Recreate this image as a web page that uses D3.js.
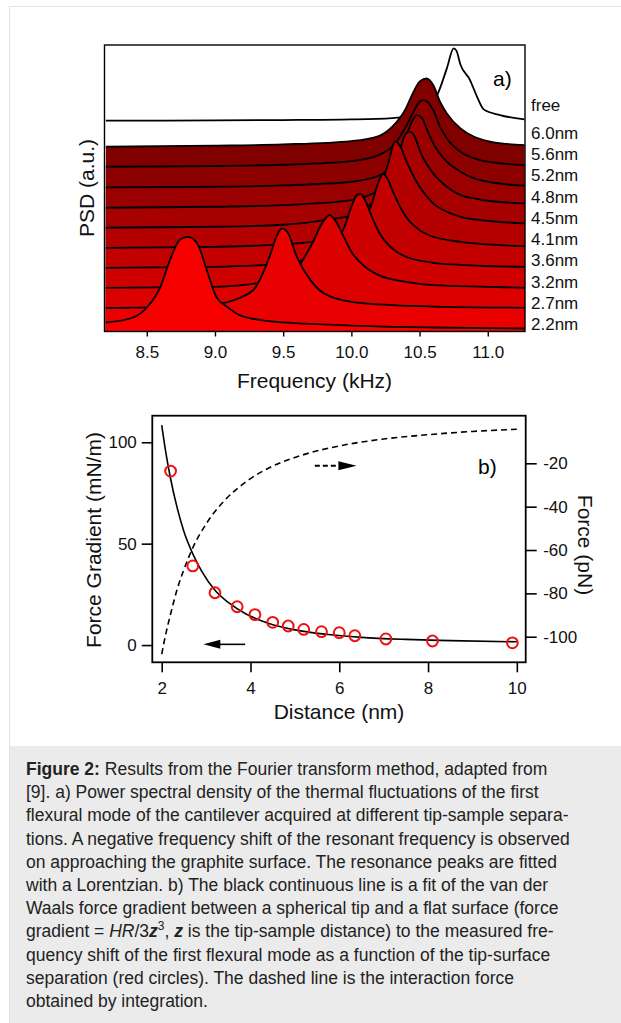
<!DOCTYPE html>
<html>
<head>
<meta charset="utf-8">
<script src="https://cdn.jsdelivr.net/npm/d3@7"></script>
<style>
  body { margin: 0; background: #fff; }
  svg { display: block; font-family: "Liberation Sans", Arial, sans-serif; }
</style>
</head>
<body>
<svg id="fig" width="621" height="1023"></svg>
<script>
// ---- panel a: spectra (frequency in kHz, PSD in a.u.)
var ticksA = [8.5, 9.0, 9.5, 10.0, 10.5, 11.0];
var labelsA = ["free", "6.0nm", "5.6nm", "5.2nm", "4.8nm", "4.5nm", "4.1nm", "3.6nm", "3.2nm", "2.7nm", "2.2nm"];

var fFree = [8.2, 9.0, 9.5, 10.0, 10.3, 10.5, 10.6, 10.64, 10.7, 10.75, 10.77, 10.8, 10.87, 10.92, 10.97, 11.09, 11.27];
var pFree = [6.32, 6.33, 6.34, 6.36, 6.40, 6.52, 6.85, 7.19, 7.89, 8.49, 8.42, 8.0, 7.54, 7.05, 6.66, 6.49, 6.36];
var f60 = [8.2, 9.0, 9.5, 10.0, 10.2, 10.3, 10.4, 10.45, 10.5, 10.55, 10.6, 10.65, 10.7, 10.8, 10.9, 11.0, 11.1, 11.27];
var p60 = [5.54, 5.57, 5.61, 5.71, 5.86, 6.14, 6.69, 7.14, 7.49, 7.59, 7.39, 6.89, 6.54, 6.09, 5.84, 5.71, 5.64, 5.59];
var f56 = [8.2, 9.0, 9.5, 10.0, 10.2, 10.3, 10.4, 10.45, 10.5, 10.53, 10.6, 10.65, 10.7, 10.8, 10.9, 11.0, 11.27];
var p56 = [4.94, 4.96, 5.00, 5.11, 5.29, 5.54, 6.14, 6.54, 6.89, 6.94, 6.64, 6.14, 5.79, 5.39, 5.19, 5.09, 4.99];
var f52 = [8.2, 9.0, 9.5, 10.0, 10.2, 10.3, 10.4, 10.45, 10.48, 10.52, 10.55, 10.6, 10.7, 10.8, 10.9, 11.0, 11.27];
var p52 = [4.32, 4.34, 4.38, 4.49, 4.67, 4.99, 5.84, 6.34, 6.49, 6.39, 6.09, 5.64, 5.09, 4.79, 4.59, 4.49, 4.37];
var f48 = [8.2, 9.0, 9.5, 10.0, 10.2, 10.3, 10.35, 10.4, 10.43, 10.47, 10.5, 10.6, 10.7, 10.8, 10.9, 11.0, 11.27];
var p48 = [3.71, 3.74, 3.79, 3.94, 4.24, 4.74, 5.34, 5.94, 5.99, 5.79, 5.44, 4.74, 4.34, 4.09, 3.99, 3.92, 3.84];
var f45 = [8.2, 9.0, 9.5, 9.8, 10.0, 10.1, 10.2, 10.27, 10.32, 10.36, 10.4, 10.5, 10.6, 10.7, 10.8, 11.0, 11.27];
var p45 = [3.11, 3.14, 3.20, 3.34, 3.49, 3.69, 4.14, 5.04, 5.69, 5.54, 5.14, 4.34, 3.84, 3.59, 3.44, 3.32, 3.24];
var f41 = [8.2, 9.0, 9.5, 9.8, 10.0, 10.1, 10.15, 10.2, 10.23, 10.27, 10.3, 10.4, 10.5, 10.6, 10.8, 11.0, 11.27];
var p41 = [2.51, 2.54, 2.61, 2.74, 2.94, 3.34, 3.84, 4.49, 4.72, 4.54, 4.24, 3.44, 3.04, 2.84, 2.69, 2.61, 2.56];
var f36 = [8.2, 9.0, 9.5, 9.7, 9.8, 9.9, 9.95, 10.0, 10.04, 10.07, 10.1, 10.15, 10.2, 10.3, 10.4, 10.6, 10.8, 11.27];
var p36 = [1.91, 1.94, 2.04, 2.19, 2.34, 2.74, 3.14, 3.74, 4.09, 4.12, 3.94, 3.44, 2.99, 2.49, 2.24, 2.06, 2.00, 1.94];
var f32 = [8.2, 9.0, 9.3, 9.5, 9.6, 9.7, 9.8, 9.84, 9.88, 9.95, 10.0, 10.1, 10.2, 10.4, 10.6, 11.0, 11.27];
var p32 = [1.31, 1.34, 1.44, 1.64, 1.89, 2.54, 3.34, 3.49, 3.34, 2.79, 2.39, 1.94, 1.69, 1.49, 1.39, 1.34, 1.31];
var f27 = [8.2, 8.8, 9.0, 9.1, 9.2, 9.3, 9.4, 9.45, 9.49, 9.53, 9.6, 9.7, 9.8, 10.0, 10.3, 10.7, 11.27];
var p27 = [0.71, 0.74, 0.82, 0.89, 1.04, 1.34, 2.24, 2.84, 3.09, 2.99, 2.24, 1.54, 1.14, 0.89, 0.79, 0.74, 0.71];
var f22 = [8.2, 8.4, 8.5, 8.6, 8.67, 8.74, 8.8, 8.87, 8.94, 9.01, 9.09, 9.18, 9.38, 9.87, 10.6, 11.27];
var p22 = [0.27, 0.42, 0.72, 1.34, 2.14, 2.74, 2.84, 2.64, 1.84, 1.04, 0.74, 0.49, 0.32, 0.20, 0.12, 0.09];

// ---- panel b: force gradient (mN/m) and force (pN) vs distance (nm)
var ticksBx = [2, 4, 6, 8, 10];
var ticksGrad = [0, 50, 100];
var ticksForce = [-100, -80, -60, -40, -20];
var measZ = [2.2, 2.7, 3.2, 3.7, 4.1, 4.5, 4.85, 5.2, 5.6, 6.0, 6.35, 7.05, 8.1, 9.9];
var measGrad = [85.8, 39.0, 25.8, 18.9, 15.0, 11.2, 9.4, 7.7, 6.6, 6.1, 4.6, 3.0, 2.0, 1.1];
var fitZ = [2.0, 2.1, 2.2, 2.35, 2.5, 2.7, 2.9, 3.2, 3.5, 3.9, 4.4, 5.0, 5.7, 6.5, 7.5, 8.5, 10.0];
var fitGrad = [108.5, 94, 82, 67.5, 56, 45, 36.5, 27, 21, 15.3, 10.8, 7.5, 5.3, 3.8, 2.8, 2.2, 1.6];
var forceZ = [2.0, 2.1, 2.2, 2.35, 2.5, 2.7, 3.0, 3.4, 3.9, 4.5, 5.2, 6.0, 7.0, 8.0, 9.0, 10.0];
var forceF = [-108, -98, -89.5, -78, -69, -59, -48, -37.5, -28.5, -21.3, -16, -12, -8.8, -6.8, -5.3, -4.3];

var captionLines = [
    [["Figure 2:", "b"], [" Results from the Fourier transform method, adapted from", ""]],
    [["[9]. a) Power spectral density of the thermal fluctuations of the first", ""]],
    [["flexural mode of the cantilever acquired at different tip-sample separa-", ""]],
    [["tions. A negative frequency shift of the resonant frequency is observed", ""]],
    [["on approaching the graphite surface. The resonance peaks are fitted", ""]],
    [["with a Lorentzian. b) The black continuous line is a fit of the van der", ""]],
    [["Waals force gradient between a spherical tip and a flat surface (force", ""]],
    [["gradient = ", ""], ["HR", "i"], ["/3", ""], ["z", "bi"], ["3", "sup"], [", ", ""], ["z", "bi"], [" is the tip-sample distance) to the measured fre-", ""]],
    [["quency shift of the first flexural mode as a function of the tip-surface", ""]],
    [["separation (red circles). The dashed line is the interaction force", ""]],
    [["obtained by integration.", ""]]
];

var spectraF = [fFree, f60, f56, f52, f48, f45, f41, f36, f32, f27, f22];
var spectraP = [pFree, p60, p56, p52, p48, p45, p41, p36, p32, p27, p22];

var svg = d3.select("#fig");

// page frame + caption box
svg.append("rect").attr("x", 9.5).attr("y", 6.5).attr("width", 640).attr("height", 1040)
    .attr("fill", "#fff").attr("stroke", "#e2e2e2");
svg.append("rect").attr("x", 10).attr("y", 746).attr("width", 620).attr("height", 290)
    .attr("fill", "#ebebeb");

// ================= panel a
var ax = { left: 104.5, right: 525, top: 45, bottom: 331.5 };
var xA = d3.scaleLinear().domain([8.19, 11.273]).range([ax.left, ax.right]);
var yA = d3.scaleLinear().domain([0, 8.59]).range([ax.bottom, ax.top]);
var red = d3.interpolateRgb("#800000", "#f60000");

var gA = svg.append("g");
var areaA = d3.area().curve(d3.curveMonotoneX)
    .x(d => xA(d[0])).y0(yA(0)).y1(d => yA(d[1]));
var lineA = d3.line().curve(d3.curveMonotoneX)
    .x(d => xA(d[0])).y(d => yA(d[1]));

spectraF.forEach(function(fs, i) {
    var pts = fs.map((f, j) => [f, spectraP[i][j]]);
    gA.append("path").attr("d", areaA(pts))
        .attr("fill", i === 0 ? "#fff" : red((i - 1) / 9));
    gA.append("path").attr("d", lineA(pts))
        .attr("fill", "none").attr("stroke", "#000").attr("stroke-width", 1.8)
        .attr("stroke-linejoin", "round");
});

gA.append("rect")
    .attr("x", ax.left).attr("y", ax.top)
    .attr("width", ax.right - ax.left).attr("height", ax.bottom - ax.top)
    .attr("fill", "none").attr("stroke", "#000").attr("stroke-width", 1.4);

var axisA = gA.append("g").attr("transform", "translate(0," + ax.bottom + ")")
    .call(d3.axisBottom(xA).tickValues(ticksA).tickSize(5).tickPadding(9).tickFormat(d3.format(".1f")));
axisA.select(".domain").remove();
axisA.selectAll("line").attr("stroke-width", 1.4);
axisA.selectAll("text").attr("font-size", 17).attr("fill", "#111").attr("font-family", null);

labelsA.forEach(function(l, i) {
    gA.append("text")
        .attr("x", 531)
        .attr("y", i === 0 ? 105 : 132.7 + (i - 1) * 21.3)
        .attr("dy", "0.35em")
        .attr("font-size", 17).attr("fill", "#111")
        .text(l);
});

gA.append("text").attr("x", 493).attr("y", 86).attr("font-size", 21).text("a)");
gA.append("text").attr("x", 314.5).attr("y", 388).attr("text-anchor", "middle")
    .attr("font-size", 21).attr("fill", "#111").text("Frequency (kHz)");
gA.append("text").attr("transform", "translate(94,188) rotate(-90)").attr("text-anchor", "middle")
    .attr("font-size", 21).attr("fill", "#111").text("PSD (a.u.)");

// ================= panel b
var bx = { left: 152.3, right: 525.7, top: 415.7, bottom: 662.3 };
var xB = d3.scaleLinear().domain([1.788, 10.2]).range([bx.left, bx.right]);
var yG = d3.scaleLinear().domain([-8.5, 113.1]).range([bx.bottom, bx.top]);
var yF = d3.scaleLinear().domain([-111.8, 1.96]).range([bx.bottom, bx.top]);

var gB = svg.append("g");

gB.append("path")
    .attr("d", d3.line().curve(d3.curveMonotoneX).x(d => xB(d[0])).y(d => yF(d[1]))(forceZ.map((z, i) => [z, forceF[i]])))
    .attr("fill", "none").attr("stroke", "#000").attr("stroke-width", 1.6).attr("stroke-dasharray", "6,4");

gB.append("path")
    .attr("d", d3.line().curve(d3.curveMonotoneX).x(d => xB(d[0])).y(d => yG(d[1]))(fitZ.map((z, i) => [z, fitGrad[i]])))
    .attr("fill", "none").attr("stroke", "#000").attr("stroke-width", 1.6);

gB.selectAll("circle.meas")
    .data(measZ.map((z, i) => [z, measGrad[i]]))
    .enter().append("circle")
    .attr("class", "meas")
    .attr("cx", d => xB(d[0])).attr("cy", d => yG(d[1]))
    .attr("r", 5.4)
    .attr("fill", "none").attr("stroke", "#ee1111").attr("stroke-width", 2);

// arrows
var ayL = yG(0.35);
gB.append("line").attr("x1", xB(3.88)).attr("x2", xB(3.25)).attr("y1", ayL).attr("y2", ayL)
    .attr("stroke", "#000").attr("stroke-width", 1.6);
gB.append("path")
    .attr("d", "M" + xB(2.94) + "," + ayL + "L" + xB(3.32) + "," + (ayL - 4.5) + "L" + xB(3.32) + "," + (ayL + 4.5) + "Z")
    .attr("fill", "#000");
var ayR = yF(-21.1);
gB.append("line").attr("x1", xB(5.45)).attr("x2", xB(5.98)).attr("y1", ayR).attr("y2", ayR)
    .attr("stroke", "#000").attr("stroke-width", 2).attr("stroke-dasharray", "5,3");
gB.append("path")
    .attr("d", "M" + xB(6.39) + "," + ayR + "L" + xB(5.98) + "," + (ayR - 4.5) + "L" + xB(5.98) + "," + (ayR + 4.5) + "Z")
    .attr("fill", "#000");

gB.append("rect")
    .attr("x", bx.left).attr("y", bx.top)
    .attr("width", bx.right - bx.left).attr("height", bx.bottom - bx.top)
    .attr("fill", "none").attr("stroke", "#000").attr("stroke-width", 1.8);

function styleAxis(g) {
    g.select(".domain").remove();
    g.selectAll("line").attr("stroke-width", 1.6);
    g.selectAll("text").attr("font-size", 17).attr("fill", "#111").attr("font-family", null);
}

gB.append("g").attr("transform", "translate(0," + bx.bottom + ")")
    .call(d3.axisBottom(xB).tickValues(ticksBx).tickSize(10).tickPadding(10).tickFormat(d => String(d)))
    .call(styleAxis);
gB.append("g").attr("transform", "translate(" + bx.left + ",0)")
    .call(d3.axisLeft(yG).tickValues(ticksGrad).tickSize(10.5).tickPadding(5).tickFormat(d => String(d)))
    .call(styleAxis);
gB.append("g").attr("transform", "translate(" + bx.right + ",0)")
    .call(d3.axisRight(yF).tickValues(ticksForce).tickSize(11).tickPadding(6.5).tickFormat(d => String(d)))
    .call(styleAxis);

gB.append("text").attr("x", 478).attr("y", 474).attr("font-size", 21).text("b)");
gB.append("text").attr("x", 339).attr("y", 719).attr("text-anchor", "middle")
    .attr("font-size", 21).attr("fill", "#111").text("Distance (nm)");
gB.append("text").attr("transform", "translate(101,540) rotate(-90)").attr("text-anchor", "middle")
    .attr("font-size", 21).attr("fill", "#111").text("Force Gradient (mN/m)");
gB.append("text").attr("transform", "translate(578,545) rotate(90)").attr("text-anchor", "middle")
    .attr("font-size", 21).attr("fill", "#111").text("Force (pN)");

// ================= caption
var cap = svg.append("g").attr("font-size", 17.5).attr("fill", "#222");
captionLines.forEach(function(segs, i) {
    var t = cap.append("text").attr("x", 26).attr("y", 775 + i * 23.2);
    var shifted = false;
    segs.forEach(function(s) {
        var ts = t.append("tspan").text(s[0]);
        if (s[1].indexOf("b") >= 0) ts.attr("font-weight", "bold");
        if (s[1].indexOf("i") >= 0) ts.attr("font-style", "italic");
        if (s[1] === "sup") { ts.attr("font-size", 12).attr("dy", -7); shifted = true; }
        else if (shifted) { ts.attr("dy", 7); shifted = false; }
    });
});
</script>
</body>
</html>
